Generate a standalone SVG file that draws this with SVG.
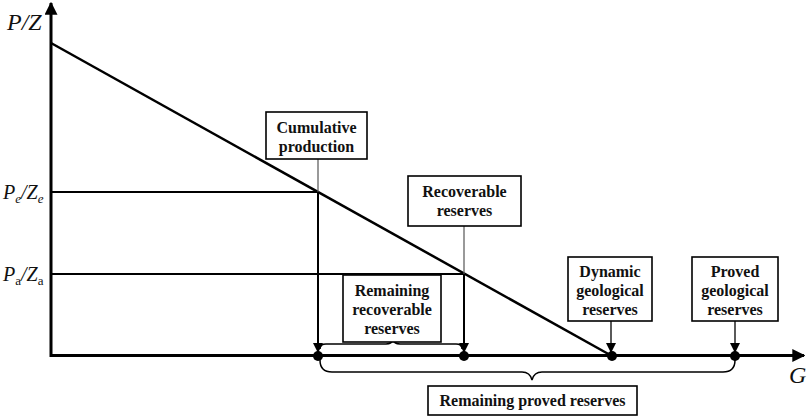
<svg xmlns="http://www.w3.org/2000/svg" width="809" height="418" viewBox="0 0 809 418">
<defs>
<style>
.box{fill:#fff;stroke:#000;stroke-width:1.6}
.lbl{font-family:'Liberation Serif','DejaVu Serif',serif;font-weight:bold;font-size:16px;text-anchor:middle;fill:#111}
.ax{font-family:'Liberation Serif','DejaVu Serif',serif;font-style:italic;fill:#111}
.thin{stroke:#555;stroke-width:1.2;fill:none}
.thick{stroke:#000;stroke-width:2;fill:none}
.brace{stroke:#000;stroke-width:1.5;fill:none}
</style>
<marker id="ah" viewBox="0 0 10 10" refX="9" refY="5" markerWidth="10" markerHeight="10" markerUnits="userSpaceOnUse" orient="auto"><path d="M0,0 L10,5 L0,10 z" fill="#000"/></marker>
<marker id="axh" viewBox="0 0 10 10" refX="9" refY="5" markerWidth="13" markerHeight="13" markerUnits="userSpaceOnUse" orient="auto"><path d="M0,0 L10,5 L0,10 z" fill="#000"/></marker>
</defs>
<g id="axes">
<line x1="51" y1="357" x2="51" y2="3" stroke="#000" stroke-width="3" marker-end="url(#axh)"/>
<line x1="50" y1="355.5" x2="804" y2="355.5" stroke="#000" stroke-width="3" marker-end="url(#axh)"/>
<text class="ax" x="7" y="30" font-size="24">P/Z</text>
<text class="ax" x="789" y="383" font-size="24">G</text>
<text class="ax" x="3" y="199" font-size="20">P<tspan font-size="13" dy="4">e</tspan><tspan dy="-4">/Z</tspan><tspan font-size="13" dy="4">e</tspan></text>
<text class="ax" x="3" y="281" font-size="20">P<tspan font-size="13" dy="4" font-style="normal">a</tspan><tspan dy="-4">/Z</tspan><tspan font-size="13" dy="4" font-style="normal">a</tspan></text>
</g>
<g id="curve">
<line x1="51" y1="43" x2="612" y2="356" stroke="#000" stroke-width="2.5"/>
<line x1="51" y1="192" x2="318" y2="192" stroke="#000" stroke-width="2"/>
<line x1="51" y1="274" x2="464" y2="274" stroke="#000" stroke-width="2"/>
</g>
<g id="connectors">
<line class="thin" x1="318" y1="159" x2="318" y2="192"/>
<line class="thick" x1="318" y1="192" x2="318" y2="352" marker-end="url(#ah)"/>
<line class="thin" x1="464" y1="226" x2="464" y2="274"/>
<line class="thick" x1="464" y1="274" x2="464" y2="352" marker-end="url(#ah)"/>
<line x1="611" y1="321" x2="611" y2="352" stroke="#000" stroke-width="1.3" marker-end="url(#ah)"/>
<line x1="735" y1="321" x2="735" y2="352" stroke="#000" stroke-width="1.3" marker-end="url(#ah)"/>
<path class="brace" d="M320,349 Q320,344 326,344 L386,344 Q392,344 393,339 Q394,344 400,344 L456,344 Q462,344 462,349"/>
<path class="brace" d="M320,360 Q320,372 332,372 L522,372 Q530,372 532,380 Q534,372 542,372 L723,372 Q735,372 735,360"/>
</g>
<g id="dots" fill="#000">
<circle cx="318" cy="356" r="5"/>
<circle cx="464" cy="356" r="5"/>
<circle cx="612" cy="356" r="5"/>
<circle cx="735" cy="356" r="5"/>
</g>
<g id="cumulative">
<rect class="box" x="266" y="112" width="101" height="47"/>
<text class="lbl" x="316.5" y="133">Cumulative</text>
<text class="lbl" x="316.5" y="152">production</text>
</g>
<g id="recoverable">
<rect class="box" x="408" y="176" width="113" height="50"/>
<text class="lbl" x="464.5" y="197">Recoverable</text>
<text class="lbl" x="464.5" y="216">reserves</text>
</g>
<g id="remaining-recoverable">
<rect class="box" x="343" y="275" width="98" height="67"/>
<text class="lbl" x="392" y="296">Remaining</text>
<text class="lbl" x="392" y="315">recoverable</text>
<text class="lbl" x="392" y="334">reserves</text>
</g>
<g id="dynamic">
<rect class="box" x="568" y="257" width="84" height="64"/>
<text class="lbl" x="610" y="277">Dynamic</text>
<text class="lbl" x="610" y="296">geological</text>
<text class="lbl" x="610" y="315">reserves</text>
</g>
<g id="proved">
<rect class="box" x="692" y="257" width="86" height="64"/>
<text class="lbl" x="735" y="277">Proved</text>
<text class="lbl" x="735" y="296">geological</text>
<text class="lbl" x="735" y="315">reserves</text>
</g>
<g id="remaining-proved">
<rect class="box" x="428" y="386" width="209" height="29"/>
<text class="lbl" x="532.5" y="406">Remaining proved reserves</text>
</g>
</svg>
